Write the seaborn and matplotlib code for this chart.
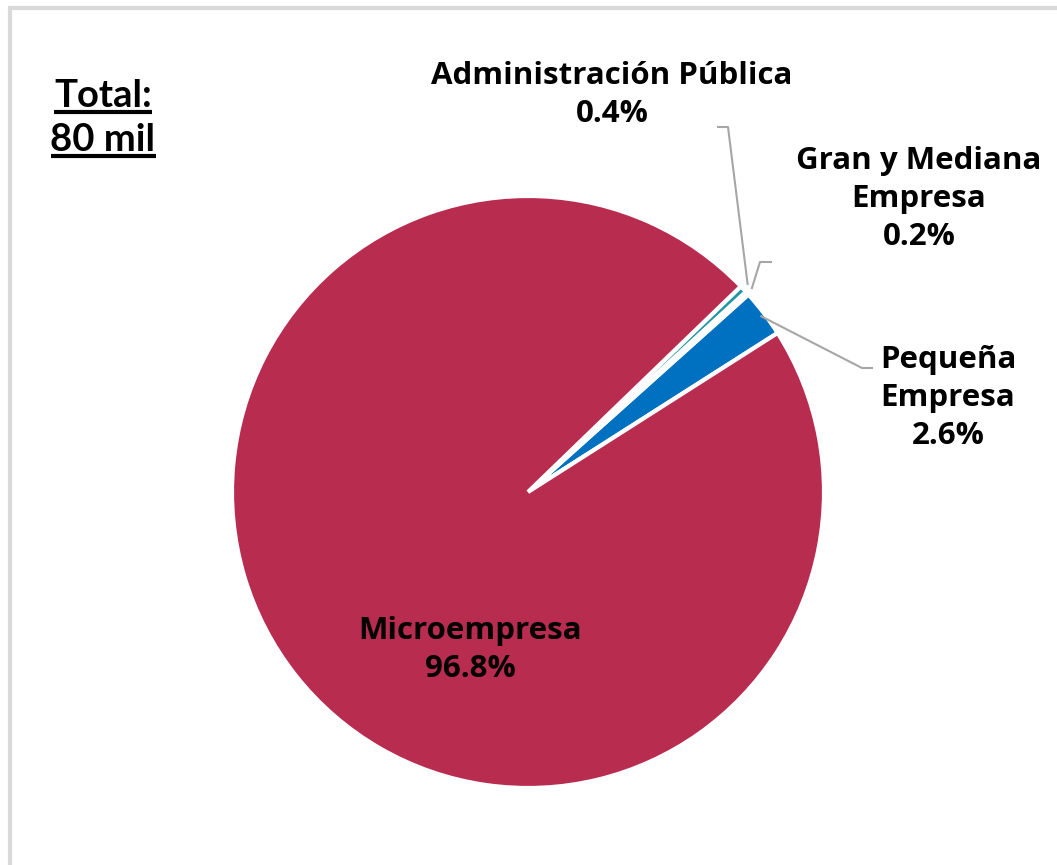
import numpy as np
import matplotlib
matplotlib.use("Agg")
import matplotlib.pyplot as plt
from matplotlib.patches import Rectangle
import seaborn as sns

# Share of employment by company size
categories = ["Pequeña\nEmpresa", "Gran y Mediana\nEmpresa", "Administración Pública", "Microempresa"]
shares = [2.6, 0.2, 0.4, 96.8]
colors = ["#0070C0", "#EAF2FA", "#1F97A6", "#B72C4F"]
total_label = ["Total:", "80 mil"]

sns.set_theme(style="white")
plt.rcParams["font.family"] = ["Open Sans", "DejaVu Sans"]
plt.rcParams["text.color"] = "black"

W, H = 1057, 865
fig = plt.figure(figsize=(W / 100, H / 100), dpi=100)
ax = fig.add_axes([0, 0, 1, 1])
ax.set_aspect("equal")

cx, cy, r = 528, H - 492, 296
wedges, _ = ax.pie(shares, colors=colors, startangle=32.5, counterclock=True,
                   center=(cx, cy), radius=r, frame=True,
                   wedgeprops=dict(edgecolor="white", linewidth=3))
ax.set_xlim(0, W)
ax.set_ylim(0, H)
ax.axis("off")

# outer frame
fig.patches.append(Rectangle((10 / W, -0.1), 1.2, (H - 8) / H + 0.1, transform=fig.transFigure,
                             fill=False, edgecolor="#D9D9D9", linewidth=3))

label_font = dict(fontsize=22.5, fontweight="bold", color="black", ha="center",
                  va="center", linespacing=1.33)

def pct(v):
    return f"{v:.1f}%"

# outside labels with leader lines
outside = {
    0: dict(text=(948, H - 398), elbow=[(862, H - 368), (873, H - 368)]),
    1: dict(text=(919, H - 199), elbow=[(760, H - 262), (772, H - 262)]),
    2: dict(text=(612, H - 95), elbow=[(728, H - 127), (717, H - 127)]),
}
for i, spec in outside.items():
    w = wedges[i]
    ang = np.deg2rad((w.theta1 + w.theta2) / 2)
    rr = r * (0.985 if i == 0 else 1.02)
    sx, sy = cx + rr * np.cos(ang), cy + rr * np.sin(ang)
    xs = [sx] + [p[0] for p in spec["elbow"]]
    ys = [sy] + [p[1] for p in spec["elbow"]]
    ax.plot(xs, ys, color="#A6A6A6", linewidth=1.5, solid_capstyle="butt")
    ax.text(*spec["text"], f"{categories[i]}\n{pct(shares[i])}", **label_font)

ax.text(470, H - 650, f"{categories[3]}\n{pct(shares[3])}", **label_font)

# underlined total
fig.canvas.draw()
renderer = fig.canvas.get_renderer()
for txt, y in zip(total_label, [H - 96, H - 140]):
    t = ax.text(103, y, txt, fontsize=27.5, fontweight="bold", ha="center", va="center",
                color="black", family=["Lato", "DejaVu Sans"])
    bb = t.get_window_extent(renderer=renderer)
    ax.plot([bb.x0, bb.x1], [bb.y0 + 1, bb.y0 + 1], color="black", linewidth=3,
            solid_capstyle="butt")

fig.savefig("out.png", dpi=100, facecolor="white")
